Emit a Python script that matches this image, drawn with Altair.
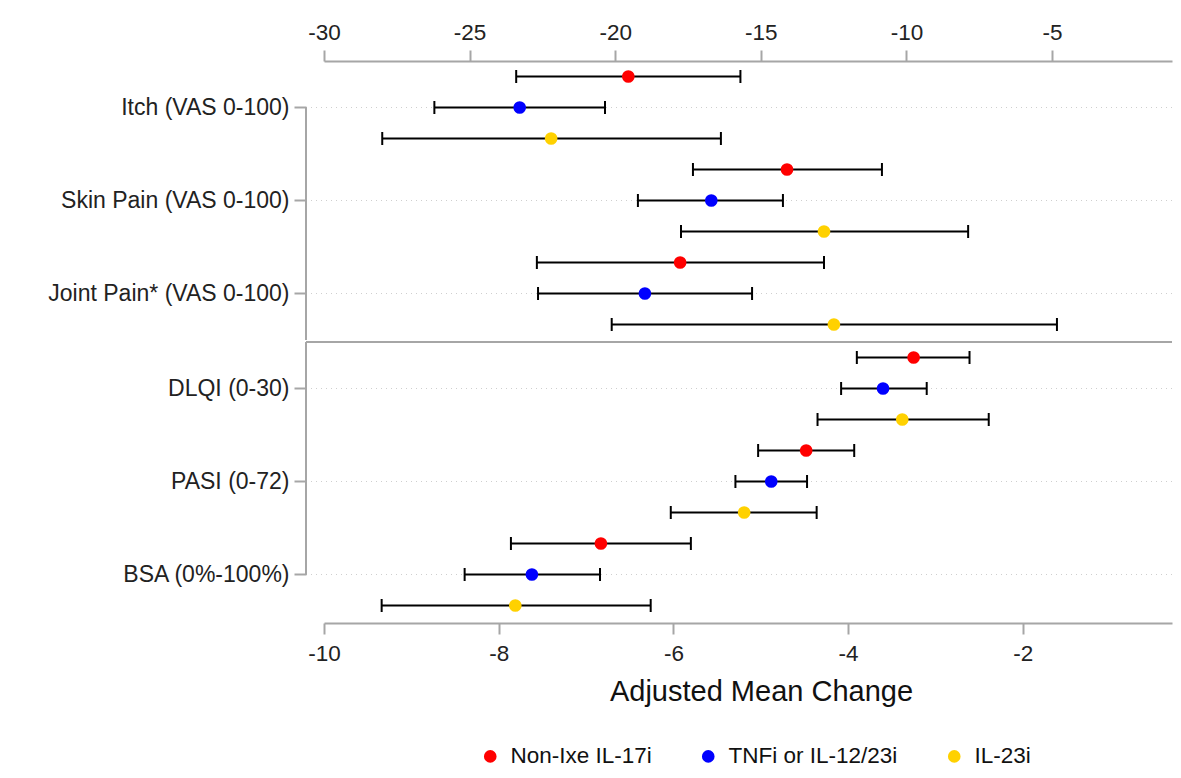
import altair as alt
import pandas as pd

groups = ["Non-Ixe IL-17i", "TNFi or IL-12/23i", "IL-23i"]
colors = ["#ff0000", "#0000ff", "#ffd100"]

top_categories = ["Itch (VAS 0-100)", "Skin Pain (VAS 0-100)", "Joint Pain* (VAS 0-100)"]
top_mean = [-19.55, -23.28, -22.20, -14.10, -16.70, -12.83, -17.77, -18.98, -12.49]
top_lo = [-23.40, -26.21, -28.00, -17.33, -19.22, -17.74, -22.69, -22.65, -20.12]
top_hi = [-15.70, -20.35, -16.37, -10.84, -14.24, -7.88, -12.83, -15.30, -4.83]
top_ticks = [-30, -25, -20, -15, -10, -5]

bottom_categories = ["DLQI (0-30)", "PASI (0-72)", "BSA (0%-100%)"]
bottom_mean = [-3.25, -3.60, -3.38, -4.48, -4.88, -5.19, -6.83, -7.62, -7.81]
bottom_lo = [-3.90, -4.08, -4.35, -5.03, -5.29, -6.03, -7.86, -8.39, -9.34]
bottom_hi = [-2.61, -3.10, -2.39, -3.93, -4.47, -4.36, -5.80, -6.84, -6.26]
bottom_ticks = [-10, -8, -6, -4, -2]

W = 848
H_TOP = 279
H_BOTTOM = 281
FONT = "Liberation Sans"
GRAY = "#a6a6a6"
FS = 23
LEG_FS = 22.5

legend = alt.Legend(
    orient="none", legendX=155, legendY=684, direction="horizontal", title=None,
    labelFontSize=LEG_FS, labelFont=FONT, labelColor="#111", labelLimit=400,
    symbolType="circle", symbolSize=160, symbolStrokeWidth=0, symbolOpacity=1,
    columnPadding=45, labelOffset=9, padding=0,
)
color = alt.Color("group:N", scale=alt.Scale(domain=groups, range=colors), legend=legend)


def panel(cats, mean, lo, hi, domain, ticks, orient, is_top, H):
    rows = [f"{c}|{g}" for c in cats for g in groups]
    df = pd.DataFrame({
        "category": [c for c in cats for g in groups],
        "group": [g for c in cats for g in groups],
        "row": rows, "mean": mean, "lo": lo, "hi": hi,
    })
    mid_rows = [f"{c}|{groups[1]}" for c in cats]
    grid_df = pd.DataFrame({"row": mid_rows})

    pad_outer = max((H / 31 - 9) / 2, 0)
    yscale = alt.Scale(domain=rows, paddingInner=0, paddingOuter=pad_outer,
                       align=1 if is_top else 0)
    yaxis = alt.Axis(
        values=mid_rows, labelExpr="split(datum.label, '|')[0]", domain=False,
        offset=18, tickSize=12, tickColor=GRAY, tickWidth=2, labelFontSize=FS,
        labelFont=FONT, labelColor="#222", labelPadding=5, labelLimit=400,
        title=None, grid=False,
    )
    y = alt.Y("row:N", scale=yscale, axis=yaxis)
    xscale = alt.Scale(domain=domain, nice=False, zero=False)
    axis_kw = dict(
        orient=orient, values=ticks, labelExpr="'' + datum.value", domainColor=GRAY,
        domainWidth=2, tickColor=GRAY, tickWidth=2, tickSize=11, labelFontSize=LEG_FS,
        labelFont=FONT, labelColor="#222", grid=False, labelFlush=False,
    )
    if is_top:
        xaxis = alt.Axis(title=None, labelPadding=6, **axis_kw)
    else:
        xaxis = alt.Axis(
            title="Adjusted Mean Change", titleFontSize=29, titleFont=FONT,
            titleFontWeight="normal", titleColor="#111", titleX=437, titlePadding=13,
            labelPadding=8, **axis_kw,
        )

    base = alt.Chart(df)
    grid = alt.Chart(grid_df).mark_rule(color="#cfcfcf", strokeWidth=1, strokeDash=[1, 4]).encode(
        y=alt.Y("row:N", scale=yscale, axis=yaxis), x=alt.value(-13), x2=alt.value(W)
    )
    bars = base.mark_rule(color="black", strokeWidth=2).encode(
        x=alt.X("lo:Q", scale=xscale, axis=xaxis), x2="hi:Q", y=y
    )
    cap_lo = base.mark_tick(color="black", thickness=2, size=13, opacity=1).encode(x="lo:Q", y=y)
    cap_hi = base.mark_tick(color="black", thickness=2, size=13, opacity=1).encode(x="hi:Q", y=y)
    pts = base.mark_circle(size=160, opacity=1).encode(x="mean:Q", y=y, color=color)
    if is_top:
        yline = alt.Chart(grid_df).mark_rule(color=GRAY, strokeWidth=2).encode(
            x=alt.value(-18), y=alt.datum(mid_rows[0]), y2=alt.value(H)
        )
        layers = [grid, yline, bars, cap_lo, cap_hi, pts]
    else:
        yline = alt.Chart(grid_df).mark_rule(color=GRAY, strokeWidth=2).encode(
            x=alt.value(-18), y=alt.datum(mid_rows[-1]), y2=alt.value(0)
        )
        sep = alt.Chart(grid_df).mark_rule(color=GRAY, strokeWidth=2).encode(
            x=alt.value(-18), x2=alt.value(W), y=alt.value(0)
        )
        layers = [grid, yline, sep, bars, cap_lo, cap_hi, pts]
    return alt.layer(*layers).properties(width=W, height=H)


top = panel(top_categories, top_mean, top_lo, top_hi, [-30, -30 + W / 29.12], top_ticks, "top", True, H_TOP)
bottom = panel(bottom_categories, bottom_mean, bottom_lo, bottom_hi, [-10, -10 + W / 87.35], bottom_ticks, "bottom", False, H_BOTTOM)

chart = alt.vconcat(top, bottom, spacing=0).properties(
    padding={"left": 39, "top": 13, "right": 0, "bottom": 0}, background="white"
).configure_view(strokeWidth=0)

chart.save("out.html", embed_options={"renderer": "svg", "actions": False})
